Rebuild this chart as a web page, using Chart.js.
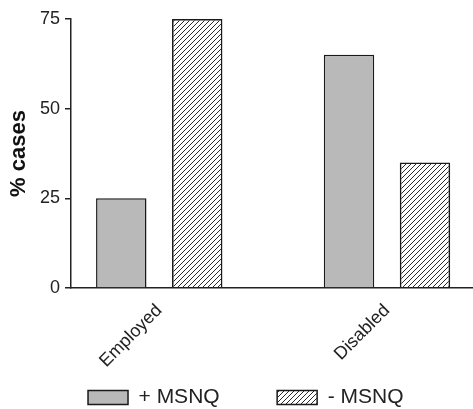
<!DOCTYPE html>
<html>
<head>
<meta charset="utf-8">
<script src="https://cdn.jsdelivr.net/npm/chart.js@4.4.1/dist/chart.umd.min.js"></script>
<style>
  html, body { margin: 0; padding: 0; background: #fff; }
  #wrap { width: 473px; height: 409px; }
</style>
</head>
<body>
<div id="wrap"><canvas id="msnqChart"></canvas></div>
<script>
// Data
const categories = ['Employed', 'Disabled'];
const withMsnq = [25, 65];
const withoutMsnq = [75, 35];
const yTicks = [0, 25, 50, 75];

const canvas = document.getElementById('msnqChart');
const ctx = canvas.getContext('2d');

// diagonal hatch fill for the "- MSNQ" bars
function makeHatch() {
    const tile = document.createElement('canvas');
    tile.width = 5;
    tile.height = 5;
    const g = tile.getContext('2d');
    g.strokeStyle = '#2a2a2a';
    g.lineWidth = 1;
    g.beginPath();
    g.moveTo(0, 5); g.lineTo(5, 0);
    g.moveTo(-1, 1); g.lineTo(1, -1);
    g.moveTo(4, 6); g.lineTo(6, 4);
    g.stroke();
    return ctx.createPattern(tile, 'repeat');
}

const toPoints = (vals) => vals.map((v, i) => ({ x: i, y: v }));

// trailing spaces only widen the legend items
const legendText = ['+ MSNQ         ', '- MSNQ         '];

const msnqData = {
    datasets: [{
        label: '+ MSNQ',
        data: toPoints(withMsnq),
        backgroundColor: '#b9b9b9',
        borderColor: '#1a1a1a',
        borderWidth: 1.5
    }, {
        label: '- MSNQ',
        data: toPoints(withoutMsnq),
        backgroundColor: makeHatch(),
        borderColor: '#1a1a1a',
        borderWidth: 1.5
    }]
};

const msnqConfig = {
    type: 'bar',
    data: msnqData,
    options: {
        responsive: true,
        maintainAspectRatio: false,
        animation: false,
        layout: { padding: { top: 19, right: 0, bottom: -9, left: 0 } },
        datasets: {
            bar: { categoryPercentage: 0.667, barPercentage: 0.664 }
        },
        scales: {
            x: {
                type: 'linear',
                offset: false,
                min: -0.3875,
                max: 1.3776,
                grid: { display: false, offset: false },
                border: { display: true, color: '#222', width: 1.5 },
                afterBuildTicks: (scale) => {
                    scale.ticks = categories.map((c, i) => ({ value: i }));
                },
                afterFit: (scale) => { scale.height = 94; },
                ticks: {
                    autoSkip: false,
                    minRotation: 45,
                    maxRotation: 45,
                    padding: 4,
                    color: '#222',
                    font: { family: 'Liberation Sans', size: 18 },
                    callback: (value) => categories[value]
                }
            },
            y: {
                min: 0,
                max: 75,
                afterBuildTicks: (scale) => {
                    scale.ticks = yTicks.map(v => ({ value: v }));
                },
                afterFit: (scale) => { scale.width = 71; },
                grid: { drawOnChartArea: false, drawTicks: true, tickLength: 6, color: '#222', lineWidth: 1.5 },
                border: { display: true, color: '#222', width: 1.5 },
                ticks: {
                    padding: 5,
                    color: '#222',
                    font: { family: 'Liberation Sans', size: 18 }
                },
                title: {
                    display: true,
                    text: '% cases',
                    color: '#111',
                    padding: { top: 6, bottom: 0 },
                    font: { family: 'Liberation Sans', size: 22, weight: 'bold' }
                }
            }
        },
        plugins: {
            tooltip: { enabled: false },
            legend: {
                position: 'bottom',
                fullSize: false,
                labels: {
                    boxWidth: 40,
                    boxHeight: 14,
                    padding: 5,
                    color: '#222',
                    font: { family: 'Liberation Sans', size: 21 },
                    generateLabels: (chart) => {
                        const items = Chart.defaults.plugins.legend.labels.generateLabels(chart);
                        items.forEach((item, i) => { item.text = legendText[i]; item.lineWidth = 1.5; });
                        return items;
                    }
                }
            }
        }
    }
};

const msnqChart = new Chart(canvas, msnqConfig);
</script>
</body>
</html>
